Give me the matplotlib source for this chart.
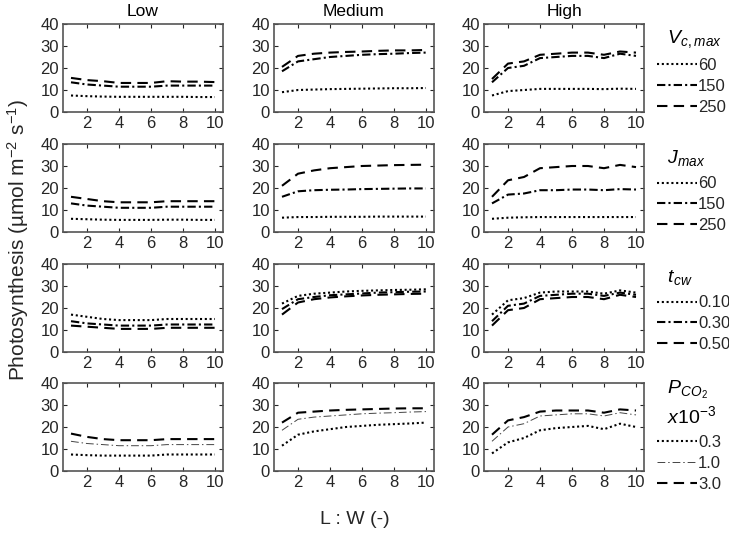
#!/usr/bin/env python3

import matplotlib
matplotlib.use('Agg')
import matplotlib.pyplot as plt
import numpy as np

plt.rcParams['font.family'] = ['Liberation Sans', 'DejaVu Sans']
plt.rcParams['mathtext.fontset'] = 'custom'
plt.rcParams['mathtext.rm'] = 'Liberation Sans'
plt.rcParams['mathtext.it'] = 'Liberation Sans:italic'

lw_ratio = np.arange(1, 11)
columns = ['Low', 'Medium', 'High']

# row 1: Vc,max = 60, 150, 250
vc_low = [[7.5, 7.2, 7.0, 6.9, 6.9, 6.9, 6.9, 6.9, 6.8, 6.8],
          [13.5, 12.5, 12.0, 11.5, 11.5, 11.5, 12.0, 12.0, 12.0, 12.0],
          [15.5, 14.5, 14.0, 13.2, 13.2, 13.2, 14.0, 13.8, 13.8, 13.6]]
vc_med = [[9.0, 10.0, 10.2, 10.4, 10.5, 10.6, 10.7, 10.8, 10.8, 10.9],
          [18.5, 23.0, 24.0, 25.0, 25.5, 26.0, 26.3, 26.5, 26.8, 27.0],
          [20.5, 25.5, 26.5, 27.0, 27.3, 27.5, 27.8, 28.0, 28.0, 28.2]]
vc_high = [[7.5, 9.5, 10.0, 10.5, 10.5, 10.5, 10.5, 10.4, 10.6, 10.5],
           [13.5, 20.0, 21.0, 24.5, 25.0, 25.5, 25.5, 24.5, 26.5, 25.5],
           [15.0, 22.0, 23.0, 26.0, 26.5, 27.0, 27.0, 26.0, 27.5, 27.0]]

# row 2: Jmax = 60, 150, 250
j_low = [[6.0, 5.8, 5.6, 5.5, 5.5, 5.5, 5.6, 5.6, 5.5, 5.5],
         [13.0, 12.0, 11.5, 11.0, 11.0, 11.0, 11.5, 11.5, 11.5, 11.5],
         [16.0, 15.0, 14.0, 13.5, 13.5, 13.5, 14.0, 14.0, 14.0, 14.0]]
j_med = [[6.5, 6.8, 6.8, 6.9, 6.9, 6.9, 7.0, 7.0, 7.0, 7.0],
         [16.0, 18.5, 19.0, 19.2, 19.3, 19.5, 19.6, 19.7, 19.8, 19.8],
         [21.0, 26.5, 28.0, 29.0, 29.5, 30.0, 30.2, 30.4, 30.5, 30.6]]
j_high = [[6.0, 6.5, 6.7, 6.8, 6.8, 6.8, 6.8, 6.8, 6.8, 6.8],
          [13.0, 17.0, 17.5, 19.0, 19.0, 19.3, 19.3, 19.0, 19.5, 19.3],
          [16.0, 23.5, 25.0, 29.0, 29.5, 30.0, 30.0, 29.0, 30.5, 29.5]]

# row 3: tcw = 0.10, 0.30, 0.50
t_low = [[17.0, 16.0, 15.0, 14.5, 14.5, 14.5, 15.0, 15.0, 15.0, 15.0],
         [14.0, 13.0, 12.5, 12.0, 12.0, 12.0, 12.5, 12.5, 12.5, 12.5],
         [12.0, 11.5, 11.0, 10.5, 10.5, 10.5, 11.0, 11.0, 11.0, 11.0]]
t_med = [[22.0, 25.5, 26.5, 27.0, 27.5, 27.8, 28.0, 28.2, 28.3, 28.5],
         [19.5, 24.0, 25.0, 25.8, 26.2, 26.6, 27.0, 27.2, 27.4, 27.5],
         [17.0, 22.5, 24.0, 24.8, 25.3, 25.7, 26.0, 26.2, 26.4, 26.5]]
t_high = [[17.0, 23.5, 24.5, 27.0, 27.5, 27.5, 27.5, 26.5, 28.0, 27.0],
          [14.0, 21.0, 22.0, 25.5, 26.0, 26.5, 26.5, 25.5, 27.0, 26.0],
          [12.0, 19.0, 20.0, 24.0, 24.5, 25.0, 25.0, 24.0, 26.0, 25.0]]

# row 4: PCO2 = 0.3, 1.0, 3.0 (x10^-3)
p_low = [[7.5, 7.2, 7.0, 7.0, 7.0, 7.0, 7.5, 7.5, 7.5, 7.5],
         [13.5, 12.5, 12.0, 11.5, 11.5, 11.5, 12.0, 12.0, 12.0, 12.0],
         [17.0, 15.5, 14.5, 14.0, 14.0, 14.0, 14.5, 14.5, 14.5, 14.5]]
p_med = [[11.5, 16.5, 18.0, 19.0, 20.0, 20.5, 21.0, 21.3, 21.6, 22.0],
         [18.5, 23.5, 24.5, 25.0, 25.5, 26.0, 26.3, 26.5, 26.8, 27.0],
         [22.0, 26.5, 27.0, 27.5, 27.8, 28.0, 28.2, 28.4, 28.5, 28.5]]
p_high = [[8.0, 13.0, 15.0, 18.5, 19.5, 20.0, 20.5, 19.0, 21.5, 20.0],
          [13.5, 20.0, 21.5, 25.0, 25.5, 26.0, 26.0, 25.0, 26.5, 25.5],
          [16.5, 23.0, 24.5, 27.0, 27.5, 27.5, 27.5, 26.5, 28.0, 27.5]]

rows = [[vc_low, vc_med, vc_high],
        [j_low, j_med, j_high],
        [t_low, t_med, t_high],
        [p_low, p_med, p_high]]

legend_titles = [r'  $V_{c,max}$', r'  $J_{max}$', r'  $t_{cw}$',
                 r'  $P_{CO_2}$' + '\n' + r'  $x10^{-3}$']
legend_labels = [['60', '150', '250'],
                 ['60', '150', '250'],
                 ['0.10', '0.30', '0.50'],
                 ['0.3', '1.0', '3.0']]

styles = [dict(ls=(0, (1, 1.3)), lw=1.5, color='black'),
          dict(ls=(0, (4, 1.5, 1, 1.5)), lw=1.5, color='black'),
          dict(ls=(0, (5, 3)), lw=1.5, color='black')]
thin_dashdot = dict(ls=(0, (8, 3, 1.5, 3)), lw=0.7, color='#444444')

fig = plt.figure(figsize=(7.29, 5.35), dpi=100)
W, H = 729, 535
lefts = [63, 274, 484]
tops = [24, 144, 264, 383]
aw, ah = 160, 88
leg_y = [1.03, 1.03, 1.03, 1.12]

grey = '#262626'
for r in range(4):
    for c in range(3):
        ax = fig.add_axes([lefts[c] / W, 1 - (tops[r] + ah) / H, aw / W, ah / H])
        handles = []
        for k in range(3):
            st = styles[k]
            if r == 3 and k == 1:
                st = thin_dashdot
            h, = ax.plot(lw_ratio, rows[r][c][k], **st)
            handles.append(h)
        ax.set_xlim(0.5, 10.5)
        ax.set_ylim(0, 40)
        ax.set_xticks([2, 4, 6, 8, 10])
        ax.set_yticks([0, 10, 20, 30, 40])
        ax.tick_params(direction='in', top=True, right=True, length=3,
                       width=0.8, color=grey, labelcolor=grey, labelsize=12,
                       pad=3)
        for s in ax.spines.values():
            s.set_color('#555555')
            s.set_linewidth(1.2)
        if r == 0:
            ax.set_title(columns[c], fontsize=12.5, color='black', pad=6)
        if c == 2:
            leg = ax.legend(handles, legend_labels[r], title=legend_titles[r],
                            loc='upper left', bbox_to_anchor=(1.04, leg_y[r]),
                            frameon=False, fontsize=12, handlelength=2.4,
                            handletextpad=0.05, borderaxespad=0,
                            labelspacing=0.35, alignment='left',
                            title_fontproperties={'size': 14})
            leg._legend_box.sep = 6
            for t in leg.get_texts():
                t.set_color(grey)

fig.text(18 / W, 1 - 240 / H, r'Photosynthesis (µmol m$^{\mathrm{-2}}$ s$^{\mathrm{-1}}$)',
         rotation=90, ha='center', va='center', fontsize=15, color=grey)
fig.text(355 / W, 1 - 519 / H, 'L : W (-)', ha='center', va='center',
         fontsize=14, color=grey)

fig.savefig('out.png', dpi=100)
